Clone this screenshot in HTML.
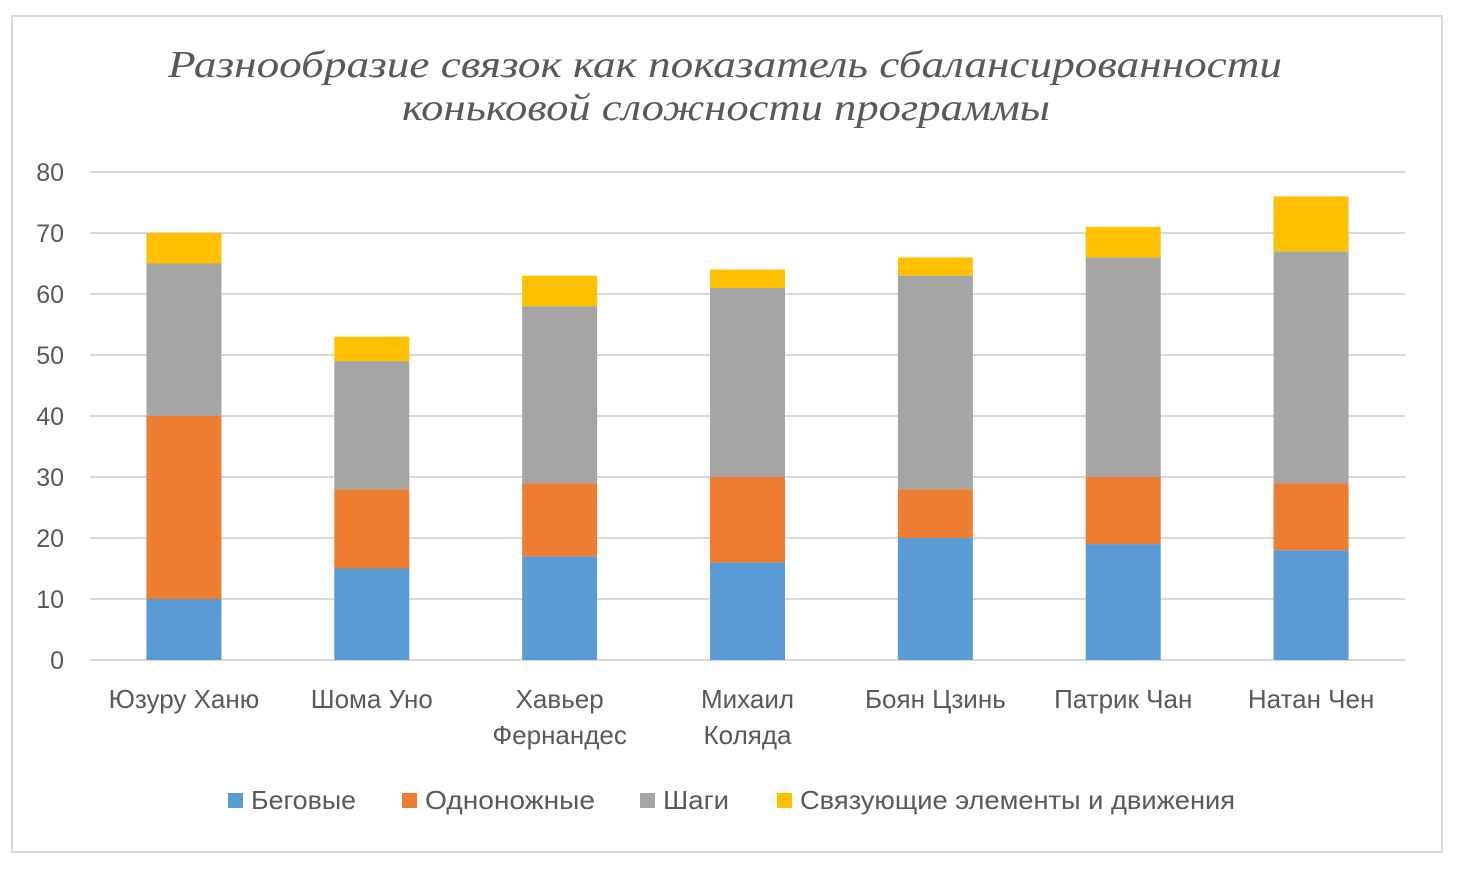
<!DOCTYPE html>
<html><head><meta charset="utf-8"><style>
body{margin:0;background:#fff;width:1460px;height:867px;overflow:hidden;font-family:"Liberation Sans",sans-serif}
</style></head><body>
<svg id="chart" width="1460" height="867" style="font-family:'Liberation Sans',sans-serif">
<rect x="12" y="16" width="1430" height="836" fill="#fff" stroke="#d9d9d9" stroke-width="2"/>
<text x="725" y="77" text-anchor="middle" style="font-family:'Liberation Serif',serif;font-style:italic" font-size="38" fill="#595959" textLength="1114" lengthAdjust="spacingAndGlyphs">Разнообразие связок как показатель сбалансированности</text>
<text x="726" y="120" text-anchor="middle" style="font-family:'Liberation Serif',serif;font-style:italic" font-size="38" fill="#595959" textLength="648" lengthAdjust="spacingAndGlyphs">коньковой сложности программы</text>
<g id="grid"></g><g id="bars"></g><g id="xlabels"></g><g id="legend"></g>
</svg>
<script>
const categories=[["Юзуру Ханю"],["Шома Уно"],["Хавьер","Фернандес"],["Михаил","Коляда"],["Боян Цзинь"],["Патрик Чан"],["Натан Чен"]];
const runs=[10,15,17,16,20,19,18];
const oneFoot=[30,13,12,14,8,11,11];
const steps=[25,21,29,31,35,36,38];
const connecting=[5,4,5,3,3,5,9];
const yTicks=[0,10,20,30,40,50,60,70,80];
const seriesNames=["Беговые","Одноножные","Шаги","Связующие элементы и движения"];
const ns="http://www.w3.org/2000/svg";
const X0=90,X1=1405,Y0=660,Y1=172,YMAX=80;
const y=v=>Y0-(v/YMAX)*(Y0-Y1);
const band=(X1-X0)/categories.length;
const xc=i=>X0+band*(i+0.5);
function mk(t,a,p){const e=document.createElementNS(ns,t);for(const k in a)e.setAttribute(k,a[k]);p.appendChild(e);return e;}
const grid=document.getElementById('grid');
yTicks.forEach(t=>{
 const l=mk('line',{x1:X0,x2:X1,y1:y(t),y2:y(t),stroke:'#d9d9d9','stroke-width':2},grid);
 
 
 const tx=mk('text',{x:64,y:y(t)+9,'text-anchor':'end','font-size':25,fill:'#595959'},grid);
 tx.textContent=t;
 
 
});
const colors=['#5b9bd5','#ed7d31','#a5a5a5','#ffc000'];
const series=[runs,oneFoot,steps,connecting];
const bars=document.getElementById('bars');
const bw=75;
categories.forEach((c,i)=>{
 let acc=0;
 series.forEach((s,j)=>{
  const r=mk('rect',{x:xc(i)-bw/2,y:y(acc+s[i]),width:bw,height:y(acc)-y(acc+s[i]),fill:colors[j]},bars);
  
  
  acc+=s[i];
 });
 c.forEach((line,k)=>{
  const t=mk('text',{x:xc(i),y:708+k*36,'text-anchor':'middle','font-size':26,fill:'#595959'},document.getElementById('xlabels'));
  t.textContent=line;
  
  
 });
});
const lg=document.getElementById('legend');
const lx=[228,402,640,777];
const lw=[105,170,66,435];
seriesNames.forEach((n,j)=>{
 const r=mk('rect',{x:lx[j],y:793,width:15,height:15,fill:colors[j]},lg);
 
 
 const t=mk('text',{x:lx[j]+23,y:809,'font-size':26,fill:'#595959',textLength:lw[j],lengthAdjust:'spacingAndGlyphs'},lg);
 t.textContent=n;
 
 
});
</script>
</body></html>
